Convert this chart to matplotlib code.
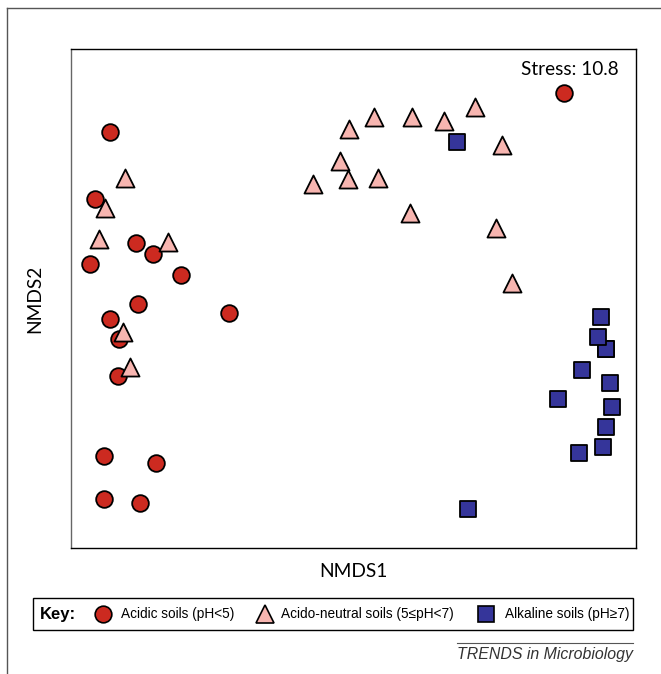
import numpy as np
import matplotlib
matplotlib.use("Agg")
import matplotlib.pyplot as plt
from matplotlib.lines import Line2D
from matplotlib.patches import Rectangle

# ====================================================================
# DATA (NMDS scores)
# ====================================================================
acidic_x = [-0.862, -0.915, -0.770, -0.710, -0.933, -0.611, -0.763, -0.441,
            -0.862, -0.830, -0.834, -0.883, -0.699, -0.883, -0.756, 0.745]
acidic_y = [0.600, 0.359, 0.200, 0.160, 0.124, 0.085, -0.020, -0.052,
            -0.074, -0.146, -0.280, -0.568, -0.593, -0.723, -0.738, 0.741]

neutral_x = [-0.809, -0.880, -0.901, -0.657, -0.816, -0.791, -0.016, 0.073,
             0.207, 0.320, 0.430, 0.526, -0.048, -0.019, -0.143, 0.087,
             0.200, 0.505, 0.561]
neutral_y = [0.435, 0.326, 0.215, 0.204, -0.121, -0.247, 0.611, 0.655,
             0.655, 0.640, 0.691, 0.554, 0.496, 0.431, 0.413, 0.435,
             0.308, 0.254, 0.056]

alkaline_x = [0.366, 0.894, 0.908, 0.809, 0.894, 0.724, 0.915, 0.894,
              0.883, 0.798, 0.405, 0.866, 0.876]
alkaline_y = [0.564, -0.182, -0.305, -0.258, -0.182, -0.363, -0.391, -0.464,
              -0.536, -0.557, -0.759, -0.139, -0.067]

stress = 10.8
key_labels = ["Acidic soils (pH<5)", "Acido-neutral soils (5\u2264pH<7)",
              "Alkaline soils (pH\u22657)"]

# styles
c_acid = "#cc2a20"
c_neut = "#f7b5b0"
c_alk = "#35359a"
calibri_like = ["Lato", "DejaVu Sans"]
arial_like = ["Liberation Sans", "DejaVu Sans"]

W, H = 661, 674
fig = plt.figure(figsize = (W / 100, H / 100), dpi = 100)
ax = fig.add_axes([71 / W, 1 - 548 / H, 565 / W, 499 / H])

ax.scatter(acidic_x, acidic_y, s = 12 ** 2, marker = "o", facecolor = c_acid,
           edgecolor = "black", linewidth = 1.3, zorder = 3)
ax.scatter(neutral_x, neutral_y, s = 13 ** 2, marker = "^", facecolor = c_neut,
           edgecolor = "black", linewidth = 1.3, zorder = 3)
ax.scatter(alkaline_x, alkaline_y, s = 11.5 ** 2, marker = "s", facecolor = c_alk,
           edgecolor = "black", linewidth = 1.3, zorder = 3)

ax.set_xlim(-1.0, 1.0)
ax.set_ylim(-0.9, 0.9)
ax.set_xticks([])
ax.set_yticks([])
for sp in ax.spines.values():
    sp.set_linewidth(1.0)
    sp.set_color("black")
ax.spines["left"].set_color("#666666")

ax.set_xlabel("NMDS1", fontsize = 13.8, family = calibri_like, labelpad = 11)
ax.set_ylabel("NMDS2", fontsize = 13.8, family = calibri_like, labelpad = 20)
ax.text(0.970, 0.975, f"Stress: {stress}", transform = ax.transAxes,
        ha = "right", va = "top", fontsize = 13.6, family = calibri_like)

# outer frame (left + top only)
fig.add_artist(Line2D([7 / W, 7 / W], [0, 1 - 8 / H], transform = fig.transFigure,
                      color = "#555555", linewidth = 1.0))
fig.add_artist(Line2D([7 / W, 1], [1 - 8 / H, 1 - 8 / H], transform = fig.transFigure,
                      color = "#555555", linewidth = 1.0))

# key box
fig.add_artist(Rectangle((33 / W, 1 - 630 / H), 600 / W, 32 / H, transform = fig.transFigure,
                         facecolor = "white", edgecolor = "black", linewidth = 1.0))
ky = 1 - 614 / H
fig.text(40 / W, ky, "Key:", fontsize = 12, fontweight = "bold", family = arial_like,
         ha = "left", va = "center")
key_markers = [("o", c_acid, 103, 121, 12), ("^", c_neut, 265, 281, 13), ("s", c_alk, 486, 505, 12)]
for (mk, col, mx, tx, ms), lab in zip(key_markers, key_labels):
    fig.add_artist(Line2D([mx / W], [ky], transform = fig.transFigure, marker = mk,
                          markersize = ms, markerfacecolor = col, markeredgecolor = "black",
                          markeredgewidth = 1.2, linestyle = "none"))
    fig.text(tx / W, ky, lab, fontsize = 9.8, family = arial_like, ha = "left", va = "center")

# journal tag
fig.add_artist(Line2D([457 / W, 633 / W], [1 - 643 / H, 1 - 643 / H], transform = fig.transFigure,
                      color = "#555555", linewidth = 0.8))
fig.text(633 / W, 1 - 655 / H, "TRENDS in Microbiology", fontsize = 11.4, style = "italic",
         family = arial_like, ha = "right", va = "center", color = "#333333")

fig.savefig("out.png", dpi = 100)
plt.close(fig)
